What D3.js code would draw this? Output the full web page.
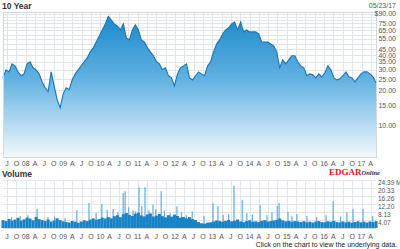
<!DOCTYPE html>
<html>
<head>
<meta charset="utf-8">
<script src="https://cdn.jsdelivr.net/npm/d3@7"></script>
<style>
  body { margin: 0; background: #fff; }
  svg { display: block; font-family: "Liberation Sans", Arial, sans-serif; }
  .grid line { stroke: #e1e6ec; stroke-width: 1; shape-rendering: crispEdges; }
  .lbl { font-size: 7px; fill: #555; }
</style>
</head>
<body>
<svg id="chart" width="400" height="249"></svg>
<script>
// closing prices, evenly spaced from 05/23/07 to 05/23/17
const prices = [
  25.6, 30.0, 28.8, 33.7, 32.4, 28.8, 26.7, 27.7, 33.7, 35.1, 31.2, 30.0, 27.7,
  23.7, 21.1, 19.5, 28.8, 21.9, 16.7, 14.2, 18.7, 21.1, 20.3, 24.6, 27.7, 30.0,
  32.4, 35.1, 37.9, 42.7, 46.2, 51.9, 58.4, 65.7, 73.9, 86.0, 79.9, 73.9, 71.1,
  65.7, 73.9, 56.1, 54.0, 65.7, 72.5, 65.7, 54.0, 51.9, 46.2, 42.7, 39.5, 35.1,
  33.7, 30.0, 31.2, 26.7, 25.6, 21.9, 27.7, 31.2, 32.4, 33.7, 25.6, 24.6, 26.7,
  28.8, 27.7, 26.7, 32.4, 35.1, 42.7, 49.9, 54.0, 60.7, 65.7, 68.3, 73.9, 76.8,
  65.7, 76.8, 63.2, 65.7, 63.2, 63.2, 63.2, 60.7, 51.9, 51.9, 51.9, 49.9, 48.0,
  42.7, 31.2, 36.5, 33.7, 36.5, 39.5, 39.5, 35.1, 32.4, 31.2, 26.7, 27.7, 27.2,
  25.6, 27.7, 26.1, 28.3, 32.4, 30.0, 25.6, 24.6, 25.1, 26.7, 28.8, 26.1, 25.6,
  23.7, 25.6, 27.7, 28.8, 28.8, 27.7, 26.1, 23.2
];

// typical daily volume (millions) per period, same spacing as prices
const volumes = [
  4.0, 3.5, 4.6, 3.7, 4.3, 5.2, 3.8, 4.4, 5.3, 4.8, 3.9, 5.6, 4.5, 4.0,
  3.6, 4.3, 3.3, 3.8, 4.9, 4.0, 3.4, 3.0, 2.8, 3.6, 3.2, 2.7, 3.3, 3.9,
  3.5, 4.3, 4.9, 4.2, 4.5, 5.3, 4.8, 5.6, 4.9, 6.0, 6.5, 5.5, 7.0, 7.6,
  6.6, 6.1, 7.2, 7.8, 6.4, 5.9, 6.9, 7.4, 5.8, 6.3, 7.1, 6.0, 5.4, 6.5,
  5.8, 6.8, 6.1, 5.3, 5.6, 4.9, 5.5, 4.5, 4.0, 3.0, 2.4, 2.2, 2.7, 2.9,
  3.3, 3.8, 3.5, 3.2, 3.6, 4.1, 3.4, 3.6, 4.3, 3.3, 2.9, 3.5, 3.9, 3.2,
  3.4, 3.0, 3.6, 4.0, 3.3, 3.5, 3.8, 4.1, 4.8, 3.9, 3.4, 3.6, 3.2, 3.5,
  3.3, 3.0, 3.4, 2.9, 3.2, 2.8, 3.3, 3.5, 3.0, 2.9, 3.4, 3.2, 3.6, 3.0,
  2.8, 3.3, 2.9, 3.2, 2.7, 3.0, 3.4, 2.9, 3.2, 2.8, 3.3, 3.0, 3.5
];

// heavy trading days (millions)
const spikeDates = [
  "2007-08-15", "2007-11-07", "2008-01-22", "2008-04-21", "2008-08-05", "2008-10-10",
  "2009-01-20", "2009-05-15", "2009-09-11", "2009-11-20", "2010-01-15", "2010-03-08",
  "2010-05-06", "2010-06-21", "2010-08-12", "2010-08-31", "2010-10-05", "2010-11-17",
  "2010-12-10", "2011-01-14", "2011-02-10", "2011-03-14", "2011-04-20", "2011-05-31",
  "2011-06-27", "2011-08-19", "2011-09-20", "2011-11-15", "2012-01-20", "2012-03-05",
  "2012-04-20", "2012-06-18", "2012-10-12", "2013-01-08", "2013-02-25", "2013-04-17",
  "2013-06-10", "2013-08-01", "2013-10-21", "2013-12-05", "2014-01-28", "2014-04-14",
  "2014-06-20", "2014-08-08", "2014-09-29", "2014-10-17", "2015-01-12", "2015-02-20",
  "2015-04-09", "2015-07-17", "2015-10-20", "2016-01-20", "2016-03-29", "2016-06-10",
  "2016-08-11", "2016-10-10", "2017-01-16", "2017-04-21"
];
const spikeVols = [
  5.5, 6.0, 6.5, 9.7, 5.5, 5.8,
  5.0, 9.0, 12.7, 7.5, 12.3, 9.2,
  9.7, 8.0, 17.8, 18.7, 10.5, 9.0,
  8.5, 20.7, 11.0, 20.7, 9.0, 11.7,
  9.5, 18.7, 8.8, 7.5, 11.0, 8.0,
  6.5, 8.5, 6.1, 12.7, 11.2, 6.6,
  7.0, 21.5, 14.2, 7.5, 6.8, 11.7,
  6.5, 8.1, 11.2, 12.7, 8.1, 6.0,
  7.1, 6.1, 5.5, 6.5, 13.7, 5.8,
  8.1, 9.7, 9.7, 6.1
];

const priceTicks = [90, 75, 65, 55, 45, 40, 35, 30, 25, 20, 15, 10];
const priceGrid = d3.range(10, 95, 5);
const volTicks = [24.39, 20.33, 16.26, 12.20, 8.13, 4.07];

const startDate = new Date(2007, 4, 23), endDate = new Date(2017, 4, 23);
const svg = d3.select("#chart");

const left = 3, right = 376;
const pTop = 12, pBottom = 157;
const vTop = 180, vBottom = 228;

const x = d3.scaleTime().domain([startDate, endDate]).range([left, right]);
const y = d3.scaleLog().domain([5.4, 93.5]).range([pBottom, pTop]);
const yv = d3.scaleLinear().domain([0, 24.39]).range([vBottom, vTop]);

const step = (endDate - startDate) / (prices.length - 1);
const dateAt = i => new Date(+startDate + i * step);
const priceData = prices.map((p, i) => ({date: dateAt(i), price: p}));

const quarters = d3.timeMonth.every(3).range(new Date(2007, 6, 1), endDate);
function qLabel(d) {
  const m = d.getMonth();
  if (m === 0) return d3.timeFormat("%y")(d);
  return {3: "A", 6: "J", 9: "O"}[m];
}

// gradient fill
const defs = svg.append("defs");
const grad = defs.append("linearGradient")
  .attr("id", "fillGrad")
  .attr("gradientUnits", "userSpaceOnUse")
  .attr("x1", 0).attr("y1", pTop).attr("x2", 0).attr("y2", pBottom);
grad.append("stop").attr("offset", "0%").attr("stop-color", "#1786cb");
grad.append("stop").attr("offset", "45%").attr("stop-color", "#5fb0e0");
grad.append("stop").attr("offset", "100%").attr("stop-color", "#f2f9fd");

// ---- price panel ----
const pg = svg.append("g").attr("class", "grid");
pg.selectAll(".h").data(priceGrid).enter().append("line")
  .attr("x1", left).attr("x2", right)
  .attr("y1", d => Math.round(y(d)) + 0.5).attr("y2", d => Math.round(y(d)) + 0.5);
pg.selectAll(".v").data(quarters).enter().append("line")
  .attr("x1", d => Math.round(x(d)) + 0.5).attr("x2", d => Math.round(x(d)) + 0.5)
  .attr("y1", pTop).attr("y2", pBottom);

const area = d3.area()
  .x(d => x(d.date))
  .y0(pBottom)
  .y1(d => y(d.price));
const line = d3.line()
  .x(d => x(d.date))
  .y(d => y(d.price));

svg.append("path").datum(priceData)
  .attr("d", area)
  .attr("fill", "url(#fillGrad)");
svg.append("path").datum(priceData)
  .attr("d", line)
  .attr("fill", "none")
  .attr("stroke", "#1677b8")
  .attr("stroke-width", 1.1);

svg.append("rect")
  .attr("x", left + 0.5).attr("y", pTop + 0.5)
  .attr("width", right - left).attr("height", pBottom - pTop)
  .attr("fill", "none").attr("stroke", "#d3d9df");

svg.selectAll(".pt").data(priceTicks).enter().append("text")
  .attr("class", "lbl")
  .attr("x", 396).attr("y", d => y(d) + 2.5)
  .attr("text-anchor", "end")
  .text(d => (d === 90 ? "$" : "") + d3.format(".2f")(d));

svg.selectAll(".px").data(quarters).enter().append("text")
  .attr("class", "lbl")
  .attr("x", d => x(d)).attr("y", 166)
  .attr("text-anchor", "middle")
  .text(qLabel);

svg.append("text")
  .attr("x", 2).attr("y", 9)
  .attr("font-size", 8.5).attr("font-weight", "bold").attr("fill", "#333")
  .text("10 Year");
svg.append("text")
  .attr("x", 396).attr("y", 8)
  .attr("text-anchor", "end")
  .attr("font-size", 7).attr("fill", "#555")
  .text("05/23/17");

// ---- volume panel ----
const vg = svg.append("g").attr("class", "grid");
vg.selectAll(".h").data(volTicks).enter().append("line")
  .attr("x1", left).attr("x2", right)
  .attr("y1", d => Math.round(yv(d)) + 0.5).attr("y2", d => Math.round(yv(d)) + 0.5);
vg.selectAll(".v").data(quarters).enter().append("line")
  .attr("x1", d => Math.round(x(d)) + 0.5).attr("x2", d => Math.round(x(d)) + 0.5)
  .attr("y1", vTop).attr("y2", vBottom);

const bw = (right - left) / volumes.length;
svg.selectAll(".spike").data(spikeDates).enter().append("rect")
  .attr("x", d => x(d3.timeParse("%Y-%m-%d")(d)) - 0.6)
  .attr("width", 1.2)
  .attr("y", (d, i) => yv(spikeVols[i]))
  .attr("height", (d, i) => vBottom - yv(spikeVols[i]))
  .attr("fill", "#5eaee0");
svg.selectAll(".vbar").data(volumes).enter().append("rect")
  .attr("x", (d, i) => x(dateAt(i)) - bw / 2)
  .attr("width", bw)
  .attr("y", d => yv(d))
  .attr("height", d => vBottom - yv(d))
  .attr("fill", "#1583c5");

svg.append("line")
  .attr("x1", left).attr("x2", right)
  .attr("y1", vBottom + 0.5).attr("y2", vBottom + 0.5)
  .attr("stroke", "#d3d9df");

svg.selectAll(".vt").data(volTicks).enter().append("text")
  .attr("class", "lbl")
  .attr("x", 378).attr("y", d => yv(d) + 5)
  .attr("font-size", 6.5)
  .style("font-size", "6.5px")
  .text((d, i) => d3.format(".2f")(d) + (i === 0 ? " M" : ""));

svg.selectAll(".vx").data(quarters).enter().append("text")
  .attr("class", "lbl")
  .attr("x", d => x(d)).attr("y", 239)
  .attr("text-anchor", "middle")
  .text(qLabel);

svg.append("text")
  .attr("x", 2).attr("y", 177)
  .attr("font-size", 8.5).attr("font-weight", "bold").attr("fill", "#333")
  .text("Volume");

// logo
const logo = svg.append("text").attr("x", 329).attr("y", 175);
logo.append("tspan")
  .attr("font-family", "Liberation Serif, serif").attr("font-weight", "bold")
  .attr("font-size", 9).attr("fill", "#d7192b").text("EDGAR");
logo.append("tspan")
  .attr("font-family", "Liberation Serif, serif").attr("font-weight", "bold")
  .attr("font-style", "italic").attr("font-size", 6.5).attr("fill", "#1d2f6e").text("Online");

svg.append("text")
  .attr("x", 397).attr("y", 247)
  .attr("text-anchor", "end")
  .attr("font-size", 7).attr("fill", "#222")
  .text("Click on the chart to view the underlying data.");
</script>
</body>
</html>
